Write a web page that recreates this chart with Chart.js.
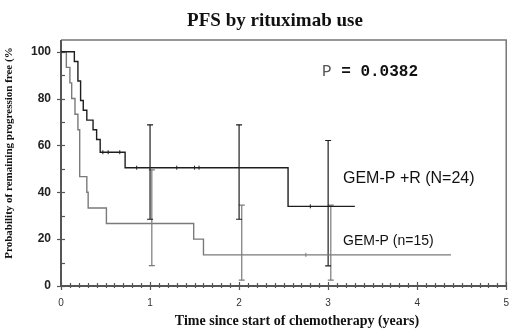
<!DOCTYPE html>
<html>
<head>
<meta charset="utf-8">
<script src="https://cdn.jsdelivr.net/npm/chart.js@4"></script>
<style>
  html, body { margin: 0; padding: 0; background: #fff; }
  #wrap { width: 520px; height: 336px; }
</style>
</head>
<body>
<div id="wrap"><canvas id="pfsChart" width="520" height="336"></canvas></div>
<script>
// GEM-P + R (N=24): time of each drop (years) and survival after it (%)
const plusRTime = [0, 0.15, 0.19, 0.22, 0.25, 0.29, 0.36, 0.40, 0.44, 0.72, 2.55, 3.30];
const plusRSurv = [100, 95.8, 87.5, 79.2, 75.0, 70.8, 66.7, 62.5, 57.1, 50.5, 34.0, 34.0];
const plusRCensorTime = [0.47, 0.53, 0.66, 0.85, 1.30, 1.50, 1.55, 2.80];
const plusRCensorSurv = [57.1, 57.1, 57.1, 50.5, 50.5, 50.5, 50.5, 34.0];

// GEM-P (n=15)
const gemTime = [0, 0.06, 0.10, 0.12, 0.157, 0.19, 0.21, 0.29, 0.305, 0.51, 1.49, 1.60, 4.38];
const gemSurv = [100, 93.3, 86.7, 80.0, 73.3, 66.7, 46.7, 40.0, 33.3, 26.7, 20.0, 13.3, 13.3];
const gemCensorTime = [2.75];
const gemCensorSurv = [13.3];

// confidence bars
const plusRCiTime = [1.0, 2.0, 3.0];
const plusRCiLow = [28.5, 28.5, 8.6];
const plusRCiHigh = [68.8, 68.8, 62.1];
const gemCiTime = [1.02, 2.03, 3.03];
const gemCiLow = [8.7, 2.5, 2.5];
const gemCiHigh = [49.6, 34.5, 34.5];

const xTickLabels = ['0', '1', '2', '3', '4', '5'];
const yTickLabels = ['0', '20', '40', '60', '80', '100'];

const darkColor = '#1e1e1e';
const grayColor = '#7a7a7a';

function toPoints(xs, ys) {
    return xs.map((x, i) => ({ x: x, y: ys[i] }));
}

function ciDatasets(xs, lows, highs, color) {
    return xs.map((x, i) => ({
        data: [{ x: x, y: lows[i] }, { x: x, y: highs[i] }],
        showLine: true,
        borderColor: color,
        borderWidth: 1.2,
        pointStyle: 'line',
        pointRadius: 3,
        pointBorderColor: color,
        pointBorderWidth: 1.2
    }));
}

const datasets = [
    {
        data: toPoints(plusRTime, plusRSurv),
        showLine: true,
        stepped: 'before',
        borderColor: darkColor,
        borderWidth: 1.4,
        pointRadius: 0
    },
    {
        data: toPoints(gemTime, gemSurv),
        showLine: true,
        stepped: 'before',
        borderColor: grayColor,
        borderWidth: 1.4,
        pointRadius: 0
    },
    {
        data: toPoints(plusRCensorTime, plusRCensorSurv),
        showLine: false,
        pointStyle: 'line',
        rotation: 90,
        pointRadius: 2,
        pointBorderColor: darkColor,
        pointBorderWidth: 1
    },
    {
        data: toPoints(gemCensorTime, gemCensorSurv),
        showLine: false,
        pointStyle: 'line',
        rotation: 90,
        pointRadius: 2,
        pointBorderColor: grayColor,
        pointBorderWidth: 1
    },
    ...ciDatasets(plusRCiTime, plusRCiLow, plusRCiHigh, darkColor),
    ...ciDatasets(gemCiTime, gemCiLow, gemCiHigh, grayColor)
];

// axes, frame, tick marks and the free text
const decorPlugin = {
    id: 'decor',
    beforeDatasetsDraw(chart) {
        const ctx = chart.ctx;
        const a = chart.chartArea;
        const xs = chart.scales.x;
        const ys = chart.scales.y;
        ctx.save();
        // frame
        ctx.strokeStyle = '#777';
        ctx.lineWidth = 1.5;
        ctx.beginPath();
        ctx.moveTo(a.left, a.top);
        ctx.lineTo(a.right, a.top);
        ctx.lineTo(a.right, a.bottom);
        ctx.stroke();
        // axes
        ctx.strokeStyle = '#555';
        ctx.lineWidth = 2;
        ctx.beginPath();
        ctx.moveTo(a.left, a.top);
        ctx.lineTo(a.left, a.bottom);
        ctx.lineTo(a.right, a.bottom);
        ctx.stroke();
        // y ticks
        ctx.lineWidth = 1.2;
        for (let v = 0; v <= 100; v += 10) {
            const py = Math.round(ys.getPixelForValue(v)) + 0.5;
            ctx.beginPath();
            ctx.moveTo(v % 20 === 0 ? a.left - 4 : a.left, py);
            ctx.lineTo(a.left + 4, py);
            ctx.stroke();
        }
        // x ticks
        for (let i = 0; i <= 50; i++) {
            const px = Math.round(xs.getPixelForValue(i / 10)) + 0.5;
            ctx.beginPath();
            if (i % 10 === 0) {
                ctx.moveTo(px, a.bottom - 4);
                ctx.lineTo(px, a.bottom + 4);
            } else {
                ctx.moveTo(px, a.bottom - 3);
                ctx.lineTo(px, a.bottom + 2);
            }
            ctx.stroke();
        }
        ctx.restore();
    },
    afterDraw(chart) {
        const ctx = chart.ctx;
        ctx.save();
        ctx.fillStyle = '#111';
        ctx.textBaseline = 'middle';

        ctx.textAlign = 'center';
        ctx.font = 'bold 19px "Liberation Serif"';
        ctx.fillText('PFS by rituximab use', 275, 21);

        ctx.font = 'bold 14px "Liberation Serif"';
        ctx.fillText('Time since start of chemotherapy (years)', 297, 321);

        ctx.save();
        ctx.translate(9, 153);
        ctx.rotate(-Math.PI / 2);
        ctx.font = 'bold 11px "Liberation Serif"';
        ctx.fillText('Probability of remaining progression free (%', 0, 0);
        ctx.restore();

        ctx.textAlign = 'left';
        ctx.font = '16px "Liberation Mono"';
        ctx.fillStyle = '#555';
        ctx.fillText('P', 322, 72);
        const pw = ctx.measureText('P ').width;
        ctx.font = 'bold 16px "Liberation Mono"';
        ctx.fillStyle = '#111';
        ctx.fillText('= 0.0382', 322 + pw, 72);

        ctx.font = '16px "Liberation Sans"';
        ctx.fillText('GEM-P +R (N=24)', 343, 179);
        ctx.font = '14px "Liberation Sans"';
        ctx.fillText('GEM-P (n=15)', 343, 241);
        ctx.restore();
    }
};

new Chart(document.getElementById('pfsChart'), {
    type: 'scatter',
    data: { datasets: datasets },
    options: {
        responsive: false,
        animation: false,
        events: [],
        layout: { padding: { top: 40, right: 11, left: 0, bottom: 0 } },
        plugins: {
            legend: { display: false },
            tooltip: { enabled: false },
            title: { display: false }
        },
        scales: {
            x: {
                type: 'linear',
                min: 0,
                max: 5,
                grid: { display: false, drawTicks: false },
                border: { display: false },
                afterFit: scale => { scale.height = 50; },
                ticks: {
                    stepSize: 1,
                    padding: 11,
                    maxRotation: 0,
                    color: '#333',
                    font: { family: 'Liberation Sans', size: 10 },
                    callback: (v) => xTickLabels[v] ?? ''
                }
            },
            y: {
                type: 'linear',
                min: 0,
                max: 105,
                grid: { display: false, drawTicks: false },
                border: { display: false },
                afterFit: scale => { scale.width = 61; },
                ticks: {
                    stepSize: 20,
                    includeBounds: false,
                    padding: 10,
                    color: '#222',
                    font: { family: 'Liberation Sans', size: 12, weight: 'bold' },
                    callback: (v) => (v % 20 === 0 ? yTickLabels[v / 20] : '')
                }
            }
        }
    },
    plugins: [decorPlugin]
});
</script>
</body>
</html>
